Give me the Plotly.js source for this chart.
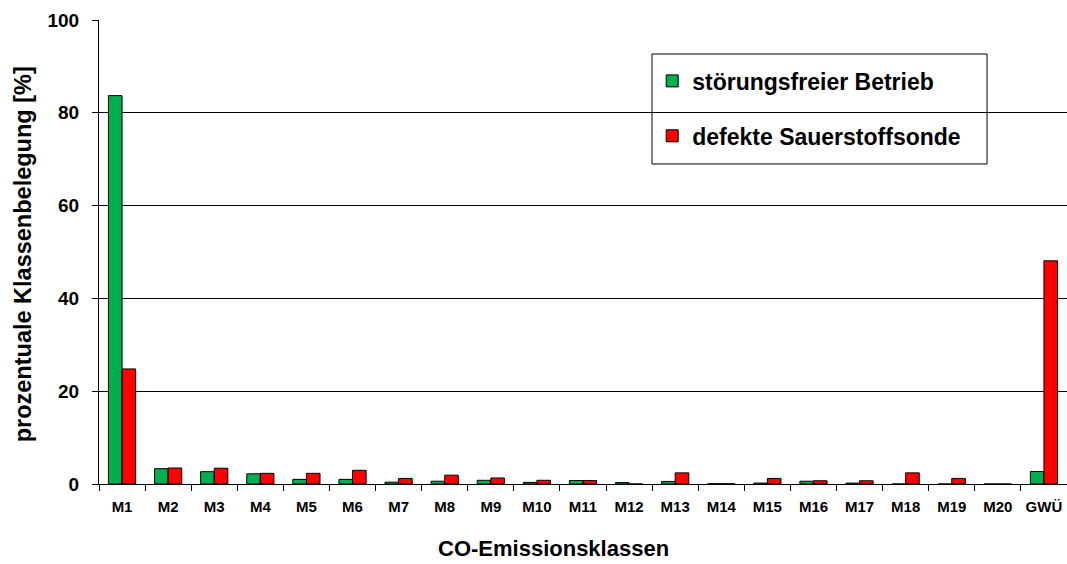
<!DOCTYPE html>
<html>
<head>
<meta charset="utf-8">
<script src="https://cdn.plot.ly/plotly-3.0.1.min.js"></script>
<style>html,body{margin:0;padding:0;background:#fff;}#chart{width:1067px;height:564px;}</style>
</head>
<body>
<div id="chart"></div>
<script>
const categories = ["M1","M2","M3","M4","M5","M6","M7","M8","M9","M10","M11","M12","M13","M14","M15","M16","M17","M18","M19","M20","GWÜ"];
const stoerungsfrei = [83.7,3.3,2.65,2.2,1.0,1.0,0.4,0.6,0.8,0.35,0.75,0.3,0.55,0.05,0.2,0.6,0.2,0,0,0,2.7];
const defekt = [24.8,3.45,3.4,2.3,2.3,2.95,1.2,1.9,1.3,0.8,0.75,0,2.4,0.05,1.2,0.7,0.7,2.4,1.2,0,48.1];
const seriesNames = ["störungsfreier Betrieb","defekte Sauerstoffsonde"];
const yTicks = [0,20,40,60,80,100];
const xTitle = "CO-Emissionsklassen";
const yTitle = "prozentuale Klassenbelegung [%]";

const font = "'Liberation Sans', Arial, sans-serif";
const traces = [
  {type:"bar", x:categories, y:stoerungsfrei, name:seriesNames[0], legendgroup:"a",
   marker:{color:"#00B050", line:{color:"#000", width:1}}},
  {type:"bar", x:categories, y:defekt, name:seriesNames[1], legendgroup:"b",
   marker:{color:"#FF0000", line:{color:"#000", width:1}}}
];
const layout = {
  width:1067, height:564,
  margin:{l:99, r:0, t:20, b:80},
  paper_bgcolor:"#fff", plot_bgcolor:"#fff",
  barmode:"group", bargap:0.41, bargroupgap:0,
  font:{family:font, color:"#000"},
  showlegend:true,
  legend:{x:0.5715, y:0.915, xanchor:"left", yanchor:"top", bgcolor:"rgba(0,0,0,0)",
    borderwidth:0, tracegroupgap:22, font:{family:font, size:23, weight:"bold", color:"#000"}},
  shapes:[{type:"rect", xref:"paper", yref:"paper", x0:0.5713, x1:0.9174, y0:0.6897, y1:0.9267,
    line:{color:"#000", width:1}, fillcolor:"rgba(0,0,0,0)", layer:"above"}],
  annotations:[
    {text:xTitle, xref:"paper", yref:"paper", x:0.470, y:0, xanchor:"center", yanchor:"middle",
     yshift:-64, showarrow:false, font:{family:font, size:22, weight:"bold", color:"#000"}},
    {text:yTitle, xref:"paper", yref:"paper", x:-0.0785, y:0.495, xanchor:"center", yanchor:"middle",
     textangle:-90, showarrow:false, font:{family:font, size:23.5, weight:"bold", color:"#000"}}
  ],
  xaxis:{type:"category", showline:true, linecolor:"#000", linewidth:1,
    ticks:"outside", tickson:"boundaries", ticklen:6, tickcolor:"#000",
    ticklabelstandoff:9,
    tickfont:{family:font, size:15, weight:"bold", color:"#000"},
    showgrid:false},
  yaxis:{range:[0,100], tickvals:yTicks, ticktext:yTicks.map(String),
    showline:true, linecolor:"#000", linewidth:1,
    ticks:"outside", ticklen:6, tickcolor:"#000", ticklabelstandoff:9,
    showgrid:true, gridcolor:"#000", gridwidth:1, zeroline:false,
    tickfont:{family:font, size:19, weight:"bold", color:"#000"}}
};
Plotly.newPlot("chart", traces, layout, {displayModeBar:false, staticPlot:true});
</script>
</body>
</html>
